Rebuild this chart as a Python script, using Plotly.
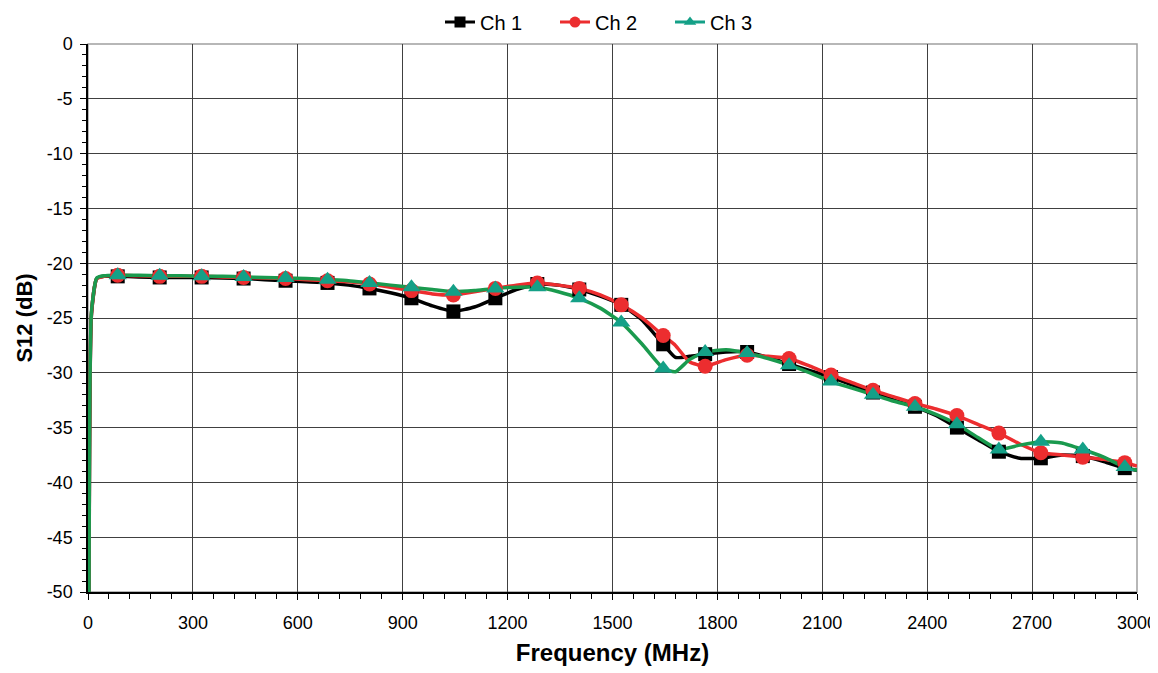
import plotly.graph_objects as go

# Frequency grid (MHz)
freq = [3, 10, 25, 45, 85, 145, 205, 265, 325, 385, 445, 505, 565, 625, 685, 745,
        805, 865, 925, 985, 1045, 1105, 1165, 1225, 1285, 1345, 1405, 1465, 1525,
        1585, 1645, 1680, 1720, 1765, 1825, 1885, 1945, 2005, 2065, 2125, 2185,
        2245, 2305, 2365, 2425, 2485, 2545, 2605, 2665, 2725, 2785, 2845, 2905,
        2965, 3000]

ch1 = [-50, -24.6, -21.4, -21.2, -21.2, -21.25, -21.3, -21.3, -21.3, -21.35, -21.4,
       -21.5, -21.6, -21.7, -21.8, -22.0, -22.3, -22.7, -23.2, -23.9, -24.4, -24.0,
       -23.2, -22.4, -21.9, -22.0, -22.4, -23.0, -23.8, -25.2, -27.4, -28.6, -28.5,
       -28.3, -28.1, -28.1, -28.6, -29.2, -29.8, -30.4, -31.1, -31.8, -32.5, -33.1,
       -33.9, -35.0, -36.1, -37.2, -37.8, -37.8, -37.5, -37.6, -38.1, -38.7, -38.9]

ch2 = [-50, -24.6, -21.4, -21.2, -21.1, -21.15, -21.2, -21.2, -21.2, -21.25, -21.3,
       -21.35, -21.4, -21.5, -21.6, -21.7, -21.9, -22.2, -22.5, -22.8, -22.9, -22.6,
       -22.3, -22.0, -21.8, -22.0, -22.3, -22.9, -23.8, -25.0, -26.6, -27.5, -29.0,
       -29.4, -28.8, -28.4, -28.5, -28.7, -29.4, -30.2, -30.9, -31.6, -32.2, -32.8,
       -33.3, -33.9, -34.7, -35.5, -36.5, -37.3, -37.5, -37.7, -37.9, -38.2, -38.5]

ch3 = [-50, -24.4, -21.35, -21.15, -21.1, -21.1, -21.15, -21.15, -21.2, -21.2, -21.25,
       -21.3, -21.35, -21.4, -21.5, -21.6, -21.8, -22.0, -22.2, -22.4, -22.6, -22.5,
       -22.3, -22.2, -22.2, -22.6, -23.2, -24.1, -25.4, -27.4, -29.6, -29.9, -28.8,
       -28.1, -27.9, -28.2, -28.7, -29.3, -30.0, -30.8, -31.4, -32.0, -32.6, -33.1,
       -33.8, -34.7, -35.9, -37.0, -36.6, -36.3, -36.4, -37.0, -37.7, -38.6, -38.9]

# Frequencies that carry a marker
marker_freq = [85, 205, 325, 445, 565, 685, 805, 925, 1045, 1165, 1285, 1405, 1525,
               1645, 1765, 1885, 2005, 2125, 2245, 2365, 2485, 2605, 2725, 2845, 2965]

x_ticks = [0, 300, 600, 900, 1200, 1500, 1800, 2100, 2400, 2700, 3000]
y_ticks = [0, -5, -10, -15, -20, -25, -30, -35, -40, -45, -50]

series = [
    ("Ch 1", ch1, "#000000", "#000000", "square", 14),
    ("Ch 2", ch2, "#ec2d2f", "#ec2d2f", "circle", 15),
    ("Ch 3", ch3, "#1a9a4e", "#14a087", "triangle-up", 16),
]

fig = go.Figure()
for name, vals, lcol, mcol, sym, msize in series:
    fig.add_trace(go.Scatter(
        x=freq, y=vals, mode="lines", line=dict(color=lcol, width=3.5, shape="spline", smoothing=0.5),
        showlegend=False, legendgroup=name, hoverinfo="skip"))
for name, vals, lcol, mcol, sym, msize in series:
    mx = [f for f in freq if f in marker_freq]
    my = [v for f, v in zip(freq, vals) if f in marker_freq]
    fig.add_trace(go.Scatter(
        x=mx, y=my, mode="markers", marker=dict(symbol=sym, size=msize, color=mcol),
        showlegend=False, legendgroup=name, name=name))
for name, vals, lcol, mcol, sym, msize in series:
    fig.add_trace(go.Scatter(
        x=[None], y=[None], mode="lines+markers", name=name, legendgroup=name,
        line=dict(color=mcol if name == "Ch 3" else lcol, width=3),
        marker=dict(symbol=sym, size=11, color=mcol)))

# The page body has an 8px margin, so the figure is sized 8px smaller
fig.update_layout(
    width=1150, height=665,
    margin=dict(l=80, r=21, t=36, b=81, autoexpand=False),
    paper_bgcolor="white", plot_bgcolor="white",
    font=dict(family="Liberation Sans, Arial, sans-serif", color="black", size=18),
    legend=dict(orientation="h", x=0.5, xanchor="center", y=1.04, yanchor="middle",
                font=dict(size=20), tracegroupgap=0, entrywidth=70, entrywidthmode="pixels",
                bgcolor="rgba(0,0,0,0)"),
    shapes=[dict(type="rect", xref="x domain", yref="y domain", x0=0, x1=1, y0=0, y1=1,
                 line=dict(color="#a0a0a0", width=1.5), layer="below")],
)
fig.update_xaxes(
    range=[0, 3000], tickvals=x_ticks, ticktext=[str(v) for v in x_ticks],
    showgrid=True, gridcolor="#404040", gridwidth=1,
    showline=True, linecolor="black", linewidth=1.5,
    ticks="outside", ticklen=6, tickcolor="black", tickfont=dict(size=18),
    ticklabelstandoff=8,
    minor=dict(dtick=60, tick0=0, ticks="outside", ticklen=5, tickcolor="black", showgrid=False),
    title=dict(text="<b>Frequency (MHz)</b>", font=dict(size=24), standoff=12),
    zeroline=False, automargin=False,
)
fig.update_yaxes(
    range=[-50, 0], tickvals=y_ticks, ticktext=[str(v) for v in y_ticks],
    showgrid=True, gridcolor="#404040", gridwidth=1,
    showline=True, linecolor="black", linewidth=1.5,
    ticks="outside", ticklen=6, tickcolor="black", tickfont=dict(size=18),
    ticklabelstandoff=4,
    minor=dict(dtick=1, tick0=0, ticks="outside", ticklen=4, tickcolor="black", showgrid=False),
    title=dict(text="<b>S12 (dB)</b>", font=dict(size=22), standoff=8),
    zeroline=False, automargin=False,
)

fig.write_html("out.html")
